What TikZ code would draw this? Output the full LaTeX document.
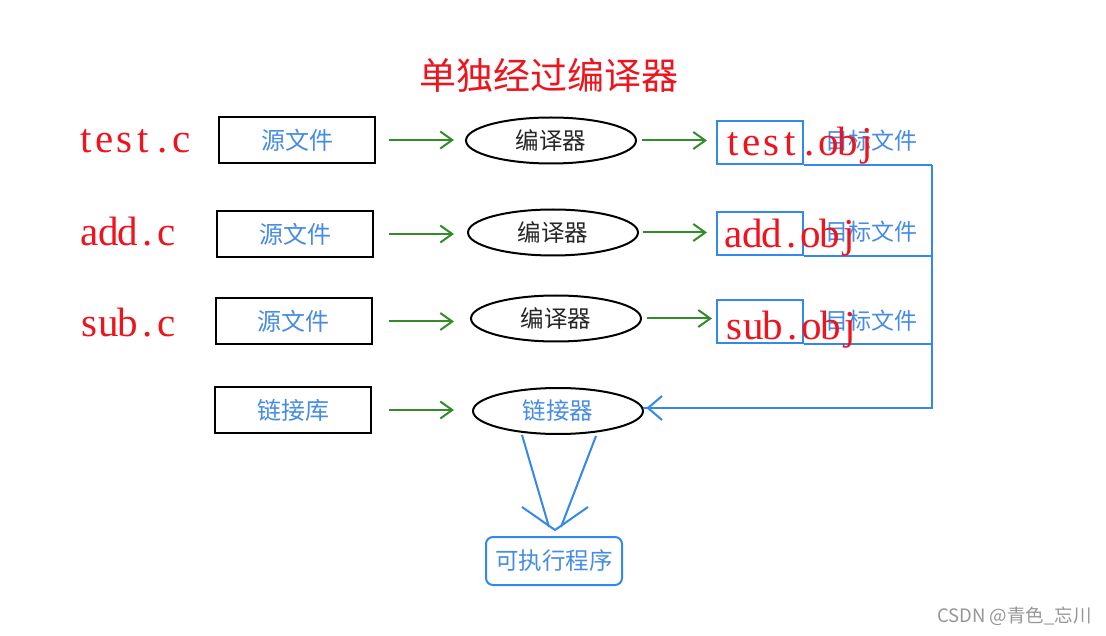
\documentclass[tikz,border=0pt]{standalone}
\usepackage{fontspec}
\setmainfont{Liberation Serif}
\newfontfamily\cjk{Noto Sans CJK SC}
\usetikzlibrary{shapes.geometric,arrows.meta}
\definecolor{myred}{RGB}{238,20,30}
\definecolor{myblue}{RGB}{51,136,238}
\definecolor{txtblue}{RGB}{70,140,230}
\definecolor{mygreen}{RGB}{50,140,40}
\definecolor{wmgray}{RGB}{150,150,150}
\newcommand\mcell[1]{\makebox[19.2pt][c]{#1}}
\def\monostr#1{\monostri#1\relax}
\def\monostri#1{\ifx#1\relax\else\mcell{#1}\expandafter\monostri\fi}
\tikzset{
  srcbox/.style={draw=black, line width=2pt, minimum width=156pt, minimum height=46pt, inner sep=0pt,
    text=txtblue, font=\cjk\fontsize{24}{26}\selectfont},
  compell/.style={ellipse, draw=black, line width=2pt, minimum width=170pt, minimum height=46pt, inner sep=0pt,
    text=black!85, font=\cjk\fontsize{23.5}{26}\selectfont},
  objbox/.style={draw=myblue, line width=2pt, minimum width=86pt, minimum height=43pt, inner sep=0pt},
  objtxt/.style={text=txtblue, font=\cjk\fontsize{23}{26}\selectfont, inner sep=0pt},
  redlbl/.style={text=myred, font=\fontsize{41}{44}\selectfont, anchor=base west, inner sep=0pt},
  garrow/.style={draw=mygreen, line width=2pt, -{Straight Barb[length=12pt,width=17pt,line width=2pt]}},
  bline/.style={draw=myblue, line width=2pt},
}
\begin{document}
\begin{tikzpicture}[x=1pt,y=-1pt]
\useasboundingbox[fill=white] (0,0) rectangle (1106,636);
% title
\node[text=myred, font=\cjk\fontsize{37}{40}\selectfont, inner sep=0pt] (title) at (549,75) {单独经过编译器};
% source boxes
\node[srcbox] (s1) at (297,140) {源文件};
\node[srcbox] (s2) at (295,234) {源文件};
\node[srcbox] (s3) at (293.5,321.5) {源文件};
\node[srcbox] (s4) at (293,410) {链接库};
% ellipses
\node[compell] (c1) at (551,140.5) {编译器};
\node[compell] (c2) at (553,232.5) {编译器};
\node[compell] (c3) at (556,318.5) {编译器};
\node[compell, text=txtblue] (c4) at (558,411) {链接器};
% object boxes
\node[objbox] (o1) at (760,142.5) {};
\node[objbox] (o2) at (760,233.5) {};
\node[objbox] (o3) at (760,322) {};
% green arrows
\draw[garrow, shorten <=13pt, shorten >=11pt] (s1.east) -- (s1.east -| c1.west);
\draw[garrow, shorten <=15pt, shorten >=13pt] (s2.east) -- (s2.east -| c2.west);
\draw[garrow, shorten <=16pt, shorten >=16pt] (s3.east) -- (s3.east -| c3.west);
\draw[garrow, shorten <=17pt, shorten >=18pt] (s4.east) -- (s4.east -| c4.west);
\draw[garrow, shorten <=5pt, shorten >=9pt] (c1.east) -- (c1.east -| o1.west);
\draw[garrow, shorten <=4pt, shorten >=9pt] (c2.east) -- (c2.east -| o2.west);
\draw[garrow, shorten <=5pt, shorten >=4pt] (c3.east) -- (c3.east -| o3.west);
% blue bus
\coordinate (bx) at (932,0);
\coordinate (b4) at (932,408);
\coordinate (l4) at (643,408);
\draw[bline] (o1.south east) -- (o1.south east -| bx);
\draw[bline] (o2.south east) -- (o2.south east -| bx);
\draw[bline] (o3.south east) -- (o3.south east -| bx);
\draw[bline, line join=miter] (o1.south east -| bx) -- (b4) -- (l4);
\draw[bline] (662,396) -- (648,408) -- (662,420);
% obj texts
\node[objtxt] (t1) at (871,141) {目标文件};
\node[objtxt] (t2) at (871,232) {目标文件};
\node[objtxt] (t3) at (871,321) {目标文件};
% executable
\node[draw=myblue, line width=2pt, rounded corners=7pt, minimum width=136pt, minimum height=48pt, inner sep=0pt,
  text=txtblue, font=\cjk\fontsize{23.5}{26}\selectfont] (exe) at (554,561) {可执行程序};
\coordinate (tip) at (555,530);
\coordinate (la) at (522,435);
\coordinate (ra) at (596,436);
\draw[bline] (la) -- (549,527);
\draw[bline] (ra) -- (561,527);
\draw[bline, line join=miter] (522,507) -- (tip) -- (588,507);
% red labels
\node[redlbl] (r1) at (76,153) {\monostr{test.c}};
\node[redlbl] (r2) at (80,246) {\monostr{add.c}};
\node[redlbl] (r3) at (80,337) {\monostr{sub.c}};
\node[redlbl] (r4) at (723,156) {\monostr{test.obj}};
\node[redlbl] (r5) at (724,248) {\monostr{add.obj}};
\node[redlbl] (r6) at (725,340) {\monostr{sub.obj}};
% watermark
\node[text=wmgray, font=\cjk\fontsize{18.5}{20}\selectfont, anchor=east, inner sep=0pt] (wm) at (1092,616) {CSDN @青色\_忘川};
\end{tikzpicture}
\end{document}
